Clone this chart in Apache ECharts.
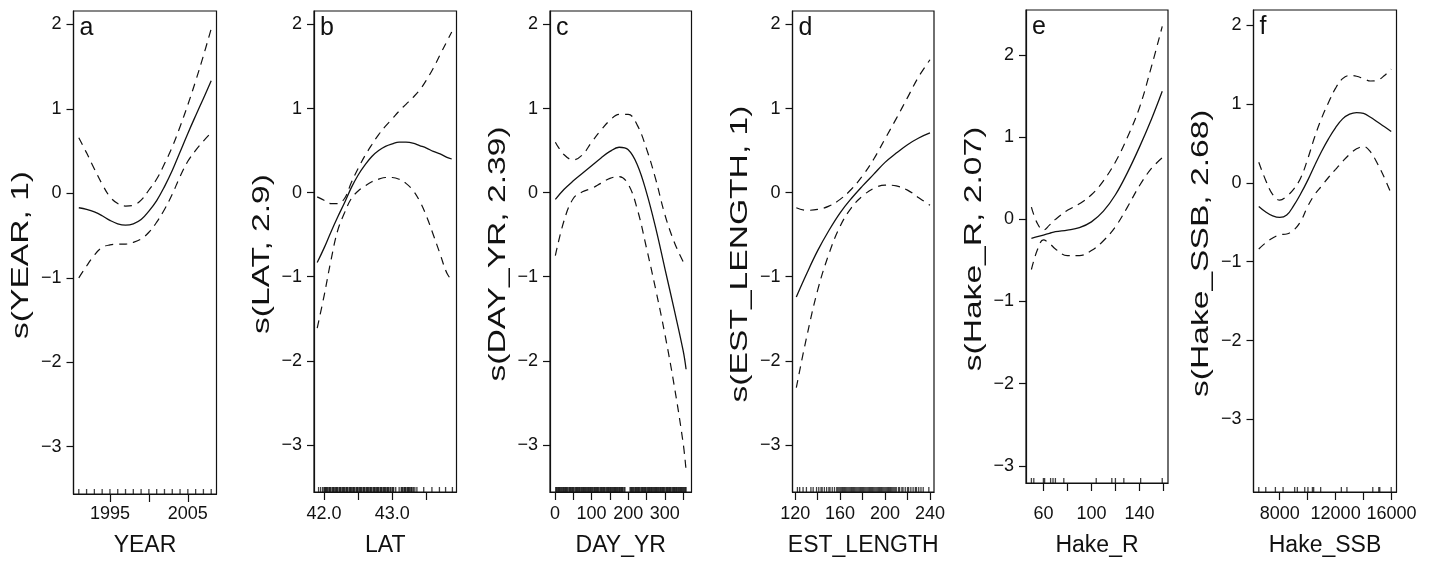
<!DOCTYPE html>
<html><head><meta charset="utf-8">
<script src="https://cdn.jsdelivr.net/npm/echarts@6/dist/echarts.min.js"></script>
<style>html,body{margin:0;padding:0;background:#fff}#c{width:1432px;height:562px}</style>
</head><body><div id="c"></div>
<script>
// ---------------- data ----------------
const panelLetters = ['a','b','c','d','e','f'];
const xNames = ['YEAR','LAT','DAY_YR','EST_LENGTH','Hake_R','Hake_SSB'];
const yNames = ['s(YEAR, 1)','s(LAT, 2.9)','s(DAY_YR, 2.39)','s(EST_LENGTH, 1)','s(Hake_R, 2.07)','s(Hake_SSB, 2.68)'];

const yearX     = [1991,1992,1993,1994,1995,1996,1997,1998,1999,2000,2001,2002,2003,2004,2005,2006,2007,2008];
const yearFit   = [-0.17,-0.19,-0.22,-0.265,-0.32,-0.36,-0.375,-0.36,-0.31,-0.21,-0.085,0.08,0.27,0.49,0.71,0.92,1.125,1.335];
const yearUpper = [0.66,0.48,0.29,0.11,-0.04,-0.12,-0.15,-0.14,-0.08,0.04,0.17,0.35,0.55,0.79,1.05,1.33,1.63,1.95];
const yearLower = [-1.0,-0.86,-0.73,-0.64,-0.61,-0.60,-0.60,-0.58,-0.54,-0.46,-0.34,-0.19,-0.01,0.20,0.38,0.51,0.62,0.72];
const yearRug   = [1991,1992,1993,1994,1995,1996,1997,1998,1999,2000,2001,2002,2003,2004,2005,2006,2007,2008];

const latX     = [41.9,42.0,42.1,42.2,42.3,42.4,42.5,42.6,42.7,42.8,42.9,43.0,43.1,43.2,43.3,43.4,43.5,43.6,43.7,43.8,43.87];
const latFit   = [-0.83,-0.66,-0.47,-0.29,-0.12,0.06,0.21,0.33,0.43,0.50,0.55,0.58,0.60,0.60,0.59,0.56,0.53,0.49,0.46,0.42,0.40];
const latUpper = [-0.05,-0.09,-0.13,-0.13,-0.07,0.12,0.29,0.44,0.57,0.69,0.79,0.88,0.97,1.05,1.13,1.22,1.34,1.48,1.64,1.80,1.91];
const latLower = [-1.61,-1.23,-0.81,-0.45,-0.24,-0.07,0.02,0.08,0.13,0.16,0.18,0.18,0.16,0.11,0.03,-0.10,-0.28,-0.50,-0.73,-0.96,-1.04];
const latRug   = [41.92,41.95,41.98,42.00,42.01,42.02,42.03,42.04,42.05,42.07,42.08,42.09,42.10,42.12,42.13,42.14,42.15,42.17,42.18,42.19,42.20,42.22,42.23,42.24,42.25,42.27,42.28,42.29,42.30,42.32,42.33,42.34,42.35,42.37,42.38,42.39,42.40,42.42,42.43,42.44,42.45,42.47,42.48,42.49,42.50,42.52,42.53,42.54,42.55,42.57,42.58,42.59,42.60,42.62,42.63,42.64,42.65,42.67,42.68,42.69,42.70,42.72,42.73,42.74,42.75,42.77,42.78,42.79,42.80,42.82,42.83,42.84,42.85,42.87,42.88,42.89,42.90,42.92,42.93,42.94,42.95,42.97,42.98,43.00,43.01,43.02,43.05,43.10,43.13,43.14,43.15,43.17,43.18,43.19,43.20,43.22,43.23,43.24,43.25,43.27,43.28,43.29,43.31,43.33,43.36,43.46,43.58,43.69,43.78,43.88];

const dayX     = [1,25,50,75,100,125,150,175,200,225,250,275,300,325,350,358];
const dayFit   = [-0.08,0.04,0.14,0.23,0.32,0.41,0.49,0.54,0.51,0.33,0.0,-0.42,-0.90,-1.38,-1.88,-2.10];
const dayUpper = [0.60,0.45,0.39,0.45,0.60,0.74,0.86,0.93,0.93,0.80,0.52,0.16,-0.26,-0.58,-0.82,-0.87];
const dayLower = [-0.75,-0.33,-0.07,0.01,0.05,0.11,0.17,0.19,0.10,-0.20,-0.66,-1.15,-1.68,-2.28,-2.98,-3.30];
const dayRug   = [2,4,6,8,10,12,14,16,18,21,23,25,27,29,31,33,35,38,40,42,44,46,48,50,52,55,57,59,61,63,65,67,69,72,74,76,78,80,82,84,86,89,91,93,95,97,99,101,103,106,108,110,112,114,116,118,120,123,125,127,129,131,133,135,137,140,142,144,146,148,150,152,154,157,159,161,163,165,167,169,171,174,176,178,180,182,184,186,189,191,205,207,209,211,213,215,218,220,222,224,226,228,230,232,235,237,239,241,243,245,247,249,252,254,256,258,260,262,264,266,269,271,273,275,277,279,281,283,286,288,290,292,294,296,298,300,303,305,307,309,311,313,315,317,320,322,324,326,328,330,332,334,337,339,341,343,345,347,349,351,354,356,358];

const lenX     = [121,130,140,150,160,170,180,190,200,210,220,230,240];
const lenFit   = [-1.24,-0.97,-0.69,-0.45,-0.24,-0.07,0.08,0.22,0.36,0.47,0.57,0.65,0.71];
const lenUpper = [-0.18,-0.21,-0.20,-0.16,-0.08,0.04,0.20,0.40,0.64,0.88,1.13,1.38,1.58];
const lenLower = [-2.32,-1.73,-1.16,-0.73,-0.40,-0.18,-0.04,0.05,0.09,0.08,0.03,-0.06,-0.15];
const lenRug   = [122,124,127,130,134,136,139,141,143,144,146,148,150,151,153,155,157,158,159,160,161,162,163,164,165,166,167,168,169,170,171,172,173,174,175,176,177,178,179,180,181,182,183,184,185,186,187,188,189,190,191,192,193,194,195,196,197,198,199,200,201,202,203,204,205,206,207,208,209,210,212,213,215,216,218,220,221,223,225,227,228,230,232,234,239];

const rX     = [50,55,60,65,70,80,90,100,110,120,130,140,150,159];
const rFit   = [-0.23,-0.21,-0.19,-0.17,-0.15,-0.13,-0.10,-0.03,0.10,0.30,0.57,0.88,1.22,1.56];
const rUpper = [0.15,-0.05,-0.13,-0.07,0.0,0.11,0.19,0.30,0.47,0.70,1.00,1.36,1.86,2.35];
const rLower = [-0.61,-0.37,-0.25,-0.29,-0.36,-0.44,-0.44,-0.38,-0.26,-0.09,0.15,0.41,0.62,0.75];
const rRug   = [50,52,60,61,66,68,70,77,104,117,120,127,141,159];

const sX     = [6500,7000,7500,8000,8500,9000,9500,10000,10500,11000,11500,12000,12500,13000,13500,14000,14500,15000,15500,15980];
const sFit   = [-0.30,-0.37,-0.42,-0.44,-0.41,-0.29,-0.14,0.03,0.22,0.40,0.56,0.70,0.81,0.87,0.89,0.88,0.83,0.77,0.71,0.65];
const sUpper = [0.26,0.03,-0.15,-0.22,-0.17,-0.08,0.06,0.30,0.58,0.82,1.02,1.20,1.32,1.36,1.35,1.32,1.29,1.30,1.36,1.44];
const sLower = [-0.84,-0.76,-0.70,-0.66,-0.65,-0.60,-0.49,-0.30,-0.15,-0.04,0.07,0.17,0.27,0.36,0.43,0.46,0.39,0.24,0.06,-0.14];
const sRug   = [6500,7000,7690,8240,9070,9260,9790,10020,10340,10430,10930,12410,12810,14660,15090,15160,15980];

// axis ticks and labels
const xTickVals  = [[1995,2000,2005],[42.0,42.5,43.0,43.5],[0,50,100,150,200,250,300,350],[120,140,160,180,200,220,240],[60,80,100,120,140,160],[8000,10000,12000,14000,16000]];
const xLabelVals = [[1995,2005],[42.0,43.0],[0,100,200,300],[120,160,200,240],[60,100,140],[8000,12000,16000]];
const xLabelDec  = [0,1,0,0,0,0];
const yTickVals  = [-3,-2,-1,0,1,2];
const xRanges = [[1990.32,2008.68],[41.853,43.94],[-13.6,372.8],[117.6,243.6],[45.5,163.8],[6123,16358]];
const yRanges = [[-3.56,2.16],[-3.56,2.16],[-3.56,2.16],[-3.56,2.16],[-3.21,2.55],[-3.92,2.19]];

// ---------------- layout / style ----------------
const layout = [
  {left:73.5, width:143,   top:11, height:488,   lblMargin:11, nameGap:40},
  {left:314,  width:142.5, top:11, height:486,   lblMargin:13, nameGap:42},
  {left:550,  width:141.5, top:11, height:486,   lblMargin:13, nameGap:42},
  {left:792.5,width:141.5, top:11, height:486,   lblMargin:13, nameGap:42},
  {left:1026, width:142,   top:10, height:478,   lblMargin:22, nameGap:51},
  {left:1253.5,width:143,  top:10, height:486.5, lblMargin:13, nameGap:42}
];
const YTITLE_GAP = 52, YTITLE_STRETCH = 1.4, YTITLE_SIZE = 24;
const TICK_SIZE = 18;
const FONT = 'Liberation Sans, Arial, Helvetica, sans-serif';
const INK = '#111';

const panels = [
  [yearX, yearFit, yearUpper, yearLower, yearRug],
  [latX, latFit, latUpper, latLower, latRug],
  [dayX, dayFit, dayUpper, dayLower, dayRug],
  [lenX, lenFit, lenUpper, lenLower, lenRug],
  [rX, rFit, rUpper, rLower, rRug],
  [sX, sFit, sUpper, sLower, sRug]
];

const minus = s => String(s).replace('-', '\u2212');
const zip = (xs, ys) => xs.map((x, i) => [x, ys[i]]);

const grid = [], xAxis = [], yAxis = [], series = [], title = [], graphic = [];
panels.forEach((p, i) => {
  const L = layout[i];
  grid.push({left:L.left, top:L.top, width:L.width, height:L.height, show:true,
    borderColor:INK, borderWidth:1.2, backgroundColor:'transparent', containLabel:false});
  xAxis.push({type:'value', gridIndex:i, min:xRanges[i][0], max:xRanges[i][1],
    name:xNames[i], nameLocation:'middle', nameGap:L.nameGap,
    nameTextStyle:{fontFamily:FONT, fontSize:23, color:INK},
    axisLine:{show:true, onZero:false, lineStyle:{color:INK, width:1.2}},
    axisTick:{show:true, inside:false, length:8, customValues:xTickVals[i], lineStyle:{color:INK, width:1.2}},
    axisLabel:{show:true, margin:L.lblMargin, customValues:xLabelVals[i], fontFamily:FONT, fontSize:TICK_SIZE, color:INK,
      formatter: v => minus(Number(v).toFixed(xLabelDec[i]))},
    splitLine:{show:false}});
  yAxis.push({type:'value', gridIndex:i, min:yRanges[i][0], max:yRanges[i][1],
    axisLine:{show:true, onZero:false, lineStyle:{color:INK, width:1.2}},
    axisTick:{show:true, inside:false, length:7, customValues:yTickVals, lineStyle:{color:INK, width:1.2}},
    axisLabel:{show:true, margin:12, customValues:yTickVals, fontFamily:FONT, fontSize:TICK_SIZE, color:INK,
      formatter: v => minus(v)},
    splitLine:{show:false}});
  const [xs, fit, up, lo, rug] = p;
  series.push({type:'line', xAxisIndex:i, yAxisIndex:i, data:zip(xs, fit), showSymbol:false, smooth:0.4,
    lineStyle:{color:INK, width:1.3}, silent:true, z:3});
  series.push({type:'line', xAxisIndex:i, yAxisIndex:i, data:zip(xs, up), showSymbol:false, smooth:0.4,
    lineStyle:{color:INK, width:1.2, type:[8,6]}, silent:true, z:3});
  series.push({type:'line', xAxisIndex:i, yAxisIndex:i, data:zip(xs, lo), showSymbol:false, smooth:0.4,
    lineStyle:{color:INK, width:1.2, type:[8,6]}, silent:true, z:3});
  series.push({type:'scatter', xAxisIndex:i, yAxisIndex:i, data:rug.map(v => [v, yRanges[i][0]]),
    symbol:'rect', symbolSize:[1.3, 5], symbolOffset:[0, -2.5], itemStyle:{color:INK}, clip:false, silent:true, z:4});
  title.push({text:panelLetters[i], left:L.left + 6, top:L.top + 5, padding:0,
    textStyle:{fontFamily:FONT, fontSize:25, fontWeight:'normal', color:INK}});
  graphic.push({type:'text', x:L.left - YTITLE_GAP, y:L.top + L.height / 2, rotation:Math.PI / 2,
    scaleX:YTITLE_STRETCH, scaleY:1, silent:true,
    style:{text:yNames[i], fontFamily:FONT, fontSize:YTITLE_SIZE, fill:INK,
      align:'center', verticalAlign:'middle', textAlign:'center', textVerticalAlign:'middle'}});
});

const chart = echarts.init(document.getElementById('c'), null, {renderer:'canvas'});
chart.setOption({animation:false, backgroundColor:'#fff', title, grid, xAxis, yAxis, series, graphic});
</script></body></html>
